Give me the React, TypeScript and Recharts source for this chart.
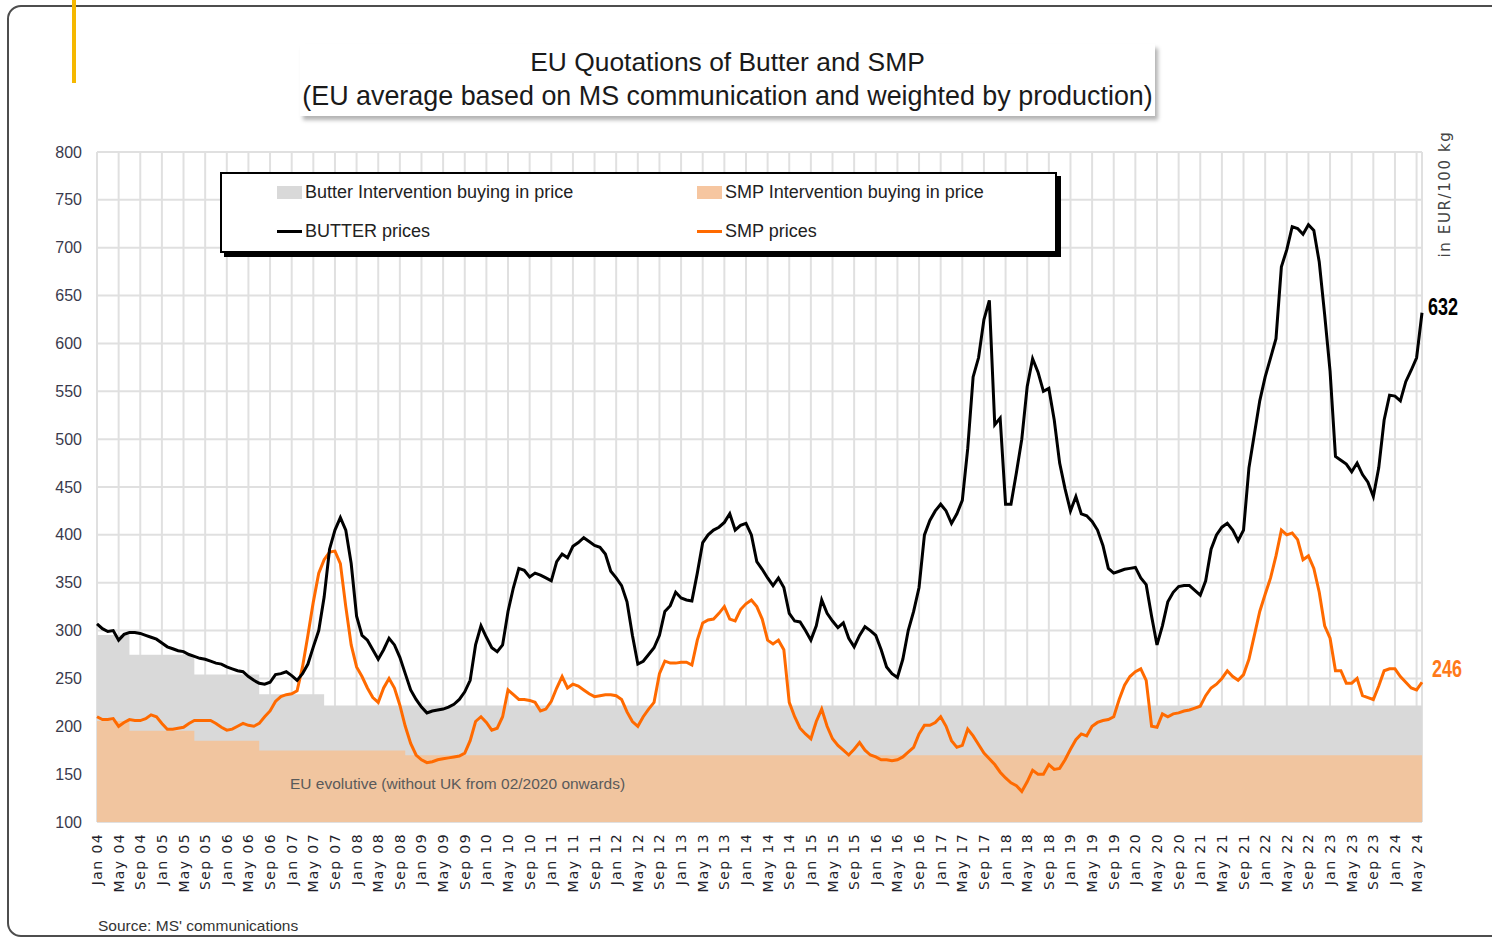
import React from "react";
import {
  ComposedChart,
  Area,
  Line,
  XAxis,
  YAxis,
  CartesianGrid,
} from "recharts";

// monthly quotations, Jan 2004 .. Jun 2024 (EUR/100 kg)
const butterPrices = [
  307, 302, 299, 300, 290, 296, 298, 298, 297, 295, 293, 291, // 2004
  287, 283, 281, 279, 278, 275, 273, 271, 270, 268, 266, 265, // 2005
  262, 260, 258, 257, 252, 248, 245, 244, 246, 254, 255, 257, // 2006
  253, 248, 255, 265, 283, 300, 335, 385, 405, 418, 405, 370, // 2007
  315, 295, 290, 280, 270, 280, 292, 285, 272, 255, 238, 228, // 2008
  220, 214, 216, 217, 218, 220, 223, 228, 236, 248, 285, 305, // 2009
  293, 282, 278, 285, 320, 345, 365, 363, 356, 360, 358, 355, // 2010
  352, 372, 380, 376, 388, 392, 397, 393, 389, 387, 380, 362, // 2011
  355, 347, 330, 295, 265, 268, 275, 282, 295, 320, 326, 340, // 2012
  334, 332, 331, 360, 392, 400, 405, 408, 413, 422, 405, 410, // 2013
  412, 400, 372, 364, 355, 347, 355, 345, 318, 310, 309, 300, // 2014
  290, 305, 332, 318, 310, 303, 308, 292, 283, 295, 304, 300, // 2015
  295, 280, 262, 255, 251, 270, 300, 320, 345, 400, 415, 425, // 2016
  432, 425, 412, 422, 436, 490, 565, 585, 625, 645, 515, 522, // 2017
  432, 432, 465, 500, 555, 584, 570, 550, 553, 520, 475, 448, // 2018
  425, 440, 422, 420, 414, 405, 389, 365, 360, 362, 364, 365, // 2019
  366, 355, 348, 315, 285, 305, 330, 340, 346, 347, 347, 342, // 2020
  337, 352, 385, 400, 408, 412, 405, 394, 405, 470, 505, 540, // 2021
  565, 585, 605, 680, 698, 722, 720, 714, 724, 718, 685, 630, // 2022
  571, 482, 478, 474, 466, 475, 463, 455, 440, 470, 520, 546, // 2023
  545, 540, 560, 572, 585, 632, // 2024
];

const smpPrices = [
  210, 207, 207, 208, 200, 204, 207, 206, 206, 208, 212, 210, // 2004
  203, 197, 197, 198, 199, 203, 206, 206, 206, 206, 203, 199, // 2005
  196, 197, 200, 203, 201, 200, 203, 210, 216, 226, 231, 233, // 2006
  234, 237, 262, 295, 330, 360, 374, 382, 383, 370, 325, 285, // 2007
  262, 252, 240, 230, 225, 240, 250, 240, 222, 200, 182, 170, // 2008
  165, 162, 163, 165, 166, 167, 168, 169, 172, 185, 205, 210, // 2009
  204, 196, 198, 210, 238, 233, 228, 228, 227, 225, 216, 218, // 2010
  226, 240, 252, 240, 244, 242, 238, 234, 231, 232, 233, 233, // 2011
  232, 228, 215, 205, 200, 210, 218, 225, 255, 268, 266, 266, // 2012
  267, 267, 264, 290, 308, 311, 312, 318, 325, 312, 310, 322, // 2013
  328, 332, 325, 312, 290, 286, 290, 280, 225, 210, 198, 192, // 2014
  187, 205, 218, 200, 187, 180, 175, 170, 176, 183, 175, 170, // 2015
  168, 165, 165, 164, 165, 168, 173, 178, 192, 201, 201, 204, // 2016
  210, 200, 185, 178, 180, 197, 190, 181, 172, 166, 160, 152, // 2017
  146, 141, 138, 132, 142, 154, 150, 150, 160, 155, 156, 165, // 2018
  176, 186, 192, 190, 200, 204, 206, 207, 210, 228, 243, 252, // 2019
  257, 260, 248, 200, 199, 213, 210, 213, 214, 216, 217, 219, // 2020
  221, 232, 240, 244, 250, 258, 252, 248, 254, 270, 295, 320, // 2021
  338, 355, 378, 405, 400, 402, 395, 374, 378, 365, 340, 305, // 2022
  292, 258, 258, 245, 245, 250, 232, 230, 228, 242, 258, 260, // 2023
  260, 252, 246, 240, 238, 246, // 2024
];

// intervention buying-in prices: month index from which a level applies
const butterInterventionSteps = [
  { from: 0, price: 295.38 },
  { from: 6, price: 274.71 },
  { from: 18, price: 254.19 },
  { from: 30, price: 233.57 },
  { from: 42, price: 221.75 },
];

const smpInterventionSteps = [
  { from: 0, price: 205.52 },
  { from: 6, price: 195.24 },
  { from: 18, price: 184.97 },
  { from: 30, price: 174.69 },
  { from: 57, price: 169.8 },
];

const monthNames = ["Jan", "Feb", "Mar", "Apr", "May", "Jun", "Jul", "Aug", "Sep", "Oct", "Nov", "Dec"];
const monthLabels = butterPrices.map(
  (_, i) => `${monthNames[i % 12]} ${String(4 + Math.floor(i / 12)).padStart(2, "0")}`
);

const xTicks = monthLabels.map((_, i) => i).filter((i) => i % 4 === 0);
const yTicks = [100, 150, 200, 250, 300, 350, 400, 450, 500, 550, 600, 650, 700, 750, 800];

const stepPrice = (steps: { from: number; price: number }[], m: number) =>
  steps.filter((s) => s.from <= m).slice(-1)[0].price;

const data = monthLabels.map((label, m) => ({
  m,
  label,
  butter: butterPrices[m],
  smp: smpPrices[m],
  butterIntervention: stepPrice(butterInterventionSteps, m),
  smpIntervention: stepPrice(smpInterventionSteps, m),
}));

const lastIndex = data.length - 1;

const legendItems = [
  { label: "Butter Intervention buying in price", kind: "area", color: "#d9d9d9", left: 57, top: 20 },
  { label: "SMP Intervention buying in price", kind: "area", color: "#f6c6a0", left: 477, top: 20 },
  { label: "BUTTER prices", kind: "line", color: "#000000", left: 57, top: 59 },
  { label: "SMP prices", kind: "line", color: "#ff6a00", left: 477, top: 59 },
];

const sans = "'Liberation Sans', Arial, sans-serif";

function XTick(props: any) {
  const { x, y, payload } = props;
  const tx = x + 5;
  const ty = y + 3;
  return (
    <text
      x={tx}
      y={ty}
      transform={`rotate(-90, ${tx}, ${ty})`}
      textAnchor="end"
      fontFamily="'DejaVu Sans', sans-serif"
      fontSize={14}
      letterSpacing={1.4}
      fill="#1e1e2a"
    >
      {monthLabels[payload.value]}
    </text>
  );
}

function YTick(props: any) {
  const { x, y, payload } = props;
  return (
    <text x={x - 7} y={y} dy="0.35em" textAnchor="end" fontFamily={sans} fontSize={16} fill="#3a3a4c">
      {payload.value}
    </text>
  );
}

function endLabel(color: string, dx: number, dy: number) {
  return (props: any) => {
    const { x, y, index, value } = props;
    if (index !== lastIndex) return <g />;
    return (
      <text
        x={x + dx}
        y={y + dy}
        dy="0.35em"
        fill={color}
        fontFamily={sans}
        fontWeight="bold"
        fontSize={23}
        textLength={30}
        lengthAdjust="spacingAndGlyphs"
      >
        {value}
      </text>
    );
  };
}

export default function App() {
  return (
    <div
      style={{
        position: "absolute",
        left: 0,
        top: 0,
        width: 1492,
        height: 938,
        overflow: "hidden",
        background: "#fff",
        fontFamily: sans,
      }}
    >
      {/* outer frame */}
      <div
        style={{
          position: "absolute",
          left: 7,
          top: 5,
          width: 1520,
          height: 932,
          border: "2px solid #4d4d4d",
          borderRadius: 14,
          boxSizing: "border-box",
        }}
      />
      <div style={{ position: "absolute", left: 72, top: 0, width: 4, height: 83, background: "#f5b800" }} />

      <div style={{ position: "absolute", left: 0, top: 0 }}>
        <ComposedChart
          width={1492}
          height={938}
          data={data}
          margin={{ top: 152, right: 70, bottom: 36, left: 37 }}
        >
          <CartesianGrid stroke="#e0e0e0" strokeWidth={2} />
          <XAxis
            type="number"
            dataKey="m"
            domain={[0, lastIndex]}
            ticks={xTicks}
            interval={0}
            tickLine={false}
            axisLine={false}
            height={80}
            tick={<XTick />}
          />
          <YAxis
            domain={[100, 800]}
            ticks={yTicks}
            interval={0}
            tickLine={false}
            axisLine={false}
            width={60}
            tick={<YTick />}
          />
          <Area
            type="stepAfter"
            dataKey="butterIntervention"
            stroke="none"
            fill="#d9d9d9"
            fillOpacity={1}
            baseValue="dataMin"
            isAnimationActive={false}
          />
          <Area
            type="stepAfter"
            dataKey="smpIntervention"
            stroke="none"
            fill="#f1c59f"
            fillOpacity={1}
            baseValue="dataMin"
            isAnimationActive={false}
          />
          <Line
            type="linear"
            dataKey="smp"
            stroke="#ff6a00"
            strokeWidth={3}
            dot={false}
            activeDot={false}
            isAnimationActive={false}
            label={endLabel("#ff7a1a", 10, -13)}
          />
          <Line
            type="linear"
            dataKey="butter"
            stroke="#000"
            strokeWidth={3}
            dot={false}
            activeDot={false}
            isAnimationActive={false}
            label={endLabel("#000", 6, -6)}
          />
        </ComposedChart>
      </div>

      {/* title */}
      <div
        style={{
          position: "absolute",
          left: 300,
          top: 44,
          width: 855,
          height: 72,
          background: "#fff",
          boxShadow: "3px 4px 4px rgba(0,0,0,0.3)",
        }}
      />
      <div style={{ position: "absolute", left: 280, width: 895, top: 47, lineHeight: "30px", fontSize: 26.4, textAlign: "center", color: "#1a1a1a" }}>
        EU Quotations of Butter and SMP
      </div>
      <div style={{ position: "absolute", left: 280, width: 895, top: 81, lineHeight: "30px", fontSize: 26.9, textAlign: "center", color: "#1a1a1a" }}>
        (EU average based on MS communication and weighted by production)
      </div>

      {/* legend */}
      <div
        style={{
          position: "absolute",
          left: 220,
          top: 172,
          width: 837,
          height: 81,
          border: "2px solid #000",
          boxShadow: "4px 4px 0 #000",
          background: "#fff",
          boxSizing: "border-box",
        }}
      >
        {legendItems.map((it) => (
          <div
            key={it.label}
            style={{ position: "absolute", left: it.left - 2, top: it.top - 2 - 11, height: 22, display: "flex", alignItems: "center" }}
          >
            {it.kind === "area" ? (
              <div style={{ width: 25, height: 13, background: it.color }} />
            ) : (
              <div style={{ width: 25, height: 3, background: it.color }} />
            )}
            <span style={{ marginLeft: 3, fontSize: 18, color: "#222", whiteSpace: "nowrap" }}>{it.label}</span>
          </div>
        ))}
      </div>

      <div style={{ position: "absolute", left: 290, top: 774, lineHeight: "20px", fontSize: 15.5, color: "#5a5a5a", whiteSpace: "nowrap" }}>
        EU evolutive (without UK from 02/2020 onwards)
      </div>

      <div
        style={{
          position: "absolute",
          left: 1445,
          top: 194,
          transform: "translate(-50%, -50%) rotate(-90deg)",
          fontFamily: "'DejaVu Sans', sans-serif",
          fontSize: 15,
          letterSpacing: 1.6,
          color: "#444",
          whiteSpace: "nowrap",
        }}
      >
        in EUR/100 kg
      </div>

      <div style={{ position: "absolute", left: 98, top: 916, lineHeight: "20px", fontSize: 15.5, color: "#333", whiteSpace: "nowrap" }}>
        Source: MS' communications
      </div>
    </div>
  );
}
